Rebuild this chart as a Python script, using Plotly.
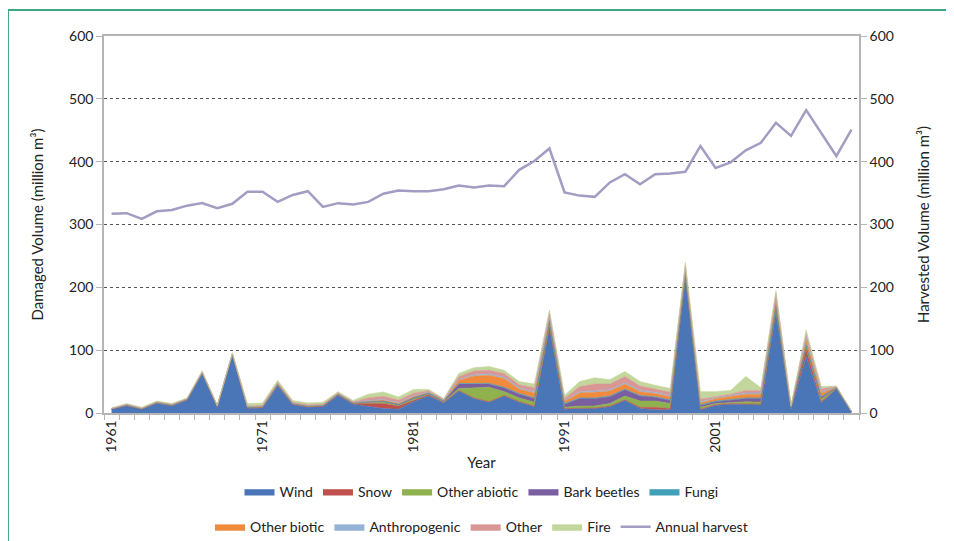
import plotly.graph_objects as go

years = list(range(1961, 2011))

wind = [6, 11, 6, 15, 11, 20, 62, 9, 91, 7,
        8, 43, 13, 9, 10, 28, 14, 11, 7, 6,
        18, 27, 16, 35, 23, 17, 27, 17, 10, 135,
        6, 7, 7, 10, 20, 7, 5, 5, 215, 5,
        12, 14, 14, 13, 160, 5, 90, 16, 38, 2]
snow = [0.5, 1, 0.5, 1, 1, 1, 1.5, 1, 1.5, 1,
        1, 1.5, 1, 1, 1, 1, 1, 4, 8, 5,
        2, 2, 1, 1, 1, 1, 1, 1, 1, 2,
        1, 1, 1, 1, 1, 2, 4, 2, 2, 1,
        1, 1, 1, 1, 3, 3, 12, 2, 1, 0.2]
other_abiotic = [0.5, 0.5, 0.5, 0.5, 0.5, 0.5, 0.5, 0.5, 0.5, 1,
                 1, 1, 1, 1, 1, 1, 1, 2, 2, 1,
                 2, 1, 1, 3, 16, 23, 6, 6, 6, 4,
                 2, 3, 3, 4, 6, 10, 10, 8, 3, 3,
                 2, 2, 3, 3, 3, 0.5, 2, 4, 0.5, 0.2]
bark_beetles = [0, 0.5, 0.5, 0.5, 0.5, 0.5, 0.5, 0.5, 0.5, 0.5,
                0.5, 1, 0.5, 0.5, 0.5, 0.5, 0.5, 1, 1.5, 1.5,
                2, 1.5, 1, 7, 6, 5, 6, 6, 6, 5,
                5, 12, 12, 11, 10, 8, 6, 5, 3, 3,
                3, 4, 5, 6, 4, 0.5, 3, 3, 0.5, 0.2]
fungi = [0, 0, 0, 0, 0, 0, 0, 0, 0, 0,
         0, 0, 0, 0, 0, 0, 0, 0.5, 0.5, 0.5,
         0.5, 0.5, 0.5, 1, 1, 1, 1, 1, 1, 1,
         1, 1, 1, 1, 1, 1, 1, 1, 1, 1,
         1, 1, 1, 1, 1, 0.5, 1, 1, 0.5, 0]
other_biotic = [0, 0.5, 0, 0.5, 0.5, 0.5, 0.5, 0.5, 0.5, 0.5,
                0.5, 1, 0.5, 0.5, 0.5, 0.5, 0.5, 1, 1.5, 1.5,
                2, 1, 1, 5, 12, 13, 14, 7, 8, 5,
                4, 8, 9, 8, 8, 6, 5, 5, 5, 3,
                4, 5, 6, 6, 12, 1, 10, 6, 1, 0.2]
anthropogenic = [0, 0, 0, 0, 0, 0, 0, 0, 0, 0,
                 0, 0, 0, 0, 0, 0, 0, 0.5, 1, 1,
                 1, 0.5, 0.5, 1, 2, 2, 2, 2, 2, 2,
                 1, 2, 2, 2, 2, 2, 2, 2, 2, 2,
                 1, 1, 2, 2, 2, 0.5, 2, 2, 0.5, 0]
other = [0.5, 0.5, 0.5, 0.5, 0.5, 0.5, 1, 0.5, 1, 1,
         1, 1.5, 1, 1, 1, 1, 1, 4, 5, 4,
         4, 2, 1, 5, 6, 6, 6, 5, 6, 5,
         3, 8, 11, 9, 10, 7, 5, 5, 4, 4,
         2, 2, 4, 4, 6, 0.5, 6, 4, 0.5, 0.2]
fire = [0.5, 1, 1, 1, 1, 1, 1, 0, 1, 4,
        4, 3, 3, 3, 3, 2, 2, 6, 7, 5,
        6, 2, 1, 5, 5, 6, 5, 5, 6, 5,
        5, 8, 10, 7, 8, 7, 6, 6, 5, 12,
        8, 6, 22, 4, 4, 0.5, 6, 4, 0.5, 0.2]
harvest = [317, 318, 309, 321, 323, 330, 334, 326, 333, 352,
           352, 336, 347, 353, 328, 334, 332, 336, 349, 354,
           353, 353, 356, 362, 359, 362, 361, 387, 401, 421,
           351, 346, 344, 367, 380, 364, 380, 381, 384, 425,
           390, 399, 418, 430, 462, 441, 482, 445, 409, 451]

series = [
    ("Wind", wind, "#4a76b8", "legend"),
    ("Snow", snow, "#c0504d", "legend"),
    ("Other abiotic", other_abiotic, "#8fb14e", "legend"),
    ("Bark beetles", bark_beetles, "#7a5fa0", "legend"),
    ("Fungi", fungi, "#3fa0b8", "legend"),
    ("Other biotic", other_biotic, "#f08a3c", "legend2"),
    ("Anthropogenic", anthropogenic, "#95b3d7", "legend2"),
    ("Other", other, "#d99694", "legend2"),
    ("Fire", fire, "#c3d69b", "legend2"),
]

fig = go.Figure()
for name, vals, col, lg in series:
    fig.add_trace(go.Scatter(
        x=years, y=vals, name=name, mode="lines",
        stackgroup="dmg", line=dict(color=col, width=0.6),
        fillcolor=col, legend=lg))

fig.add_trace(go.Scatter(
    x=years, y=harvest, name="Annual harvest", mode="lines",
    line=dict(color="#a29dc2", width=2.5), yaxis="y2", legend="legend2"))

font = "Lato, 'Open Sans', sans-serif"
fig.update_layout(
    width=946, height=533,
    margin=dict(l=96, r=95, t=28, b=128),
    paper_bgcolor="white", plot_bgcolor="white",
    font=dict(family=font, size=14, color="#222"),
    xaxis=dict(
        range=[1960.5, 2010.5], tickmode="array",
        tickvals=[1961, 1971, 1981, 1991, 2001],
        ticktext=["1961", "1971", "1981", "1991", "2001"],
        tickangle=-90, ticks="", showgrid=False, zeroline=False,
        showline=True, linecolor="#b5b5b5", linewidth=1.5, mirror=True,
        minor=dict(ticks="outside", tick0=1960.5, dtick=1, ticklen=5,
                   tickcolor="#b5b5b5", showgrid=False),
        title=dict(text="Year", font=dict(size=15), standoff=6),
        tickfont=dict(size=14), automargin=False,
    ),
    yaxis=dict(
        range=[0, 600], dtick=100, ticks="outside", ticklen=6,
        tickcolor="#b5b5b5", showline=True, linecolor="#b5b5b5",
        linewidth=1.5, showgrid=True, gridcolor="#555", griddash="dot",
        gridwidth=1, zeroline=False, automargin=False,
        title=dict(text="Damaged Volume (million m³)", font=dict(size=15), standoff=22),
    ),
    yaxis2=dict(
        range=[0, 600], dtick=100, overlaying="y", side="right",
        ticks="outside", ticklen=6, tickcolor="#b5b5b5",
        showline=True, linecolor="#b5b5b5", linewidth=1.5,
        showgrid=False, zeroline=False, automargin=False,
        title=dict(text="Harvested Volume (million m³)", font=dict(size=15), standoff=26),
    ),
    legend=dict(orientation="h", x=0.5, xanchor="center", xref="paper",
                y=0.092, yref="container", yanchor="middle",
                font=dict(size=14), itemwidth=30, traceorder="normal",
                bgcolor="rgba(0,0,0,0)"),
    legend2=dict(orientation="h", x=0.5, xanchor="center", xref="paper",
                 y=0.026, yref="container", yanchor="middle",
                 font=dict(size=14), itemwidth=30, traceorder="normal",
                 bgcolor="rgba(0,0,0,0)"),
    showlegend=True,
    shapes=[
        dict(type="rect", xref="paper", yref="paper", x0=-0.1272, x1=1.118,
             y0=-0.4, y1=1.069, fillcolor="white",
             line=dict(color="#3fa783", width=2), layer="below"),
    ],
)

fig.write_html("out.html")
